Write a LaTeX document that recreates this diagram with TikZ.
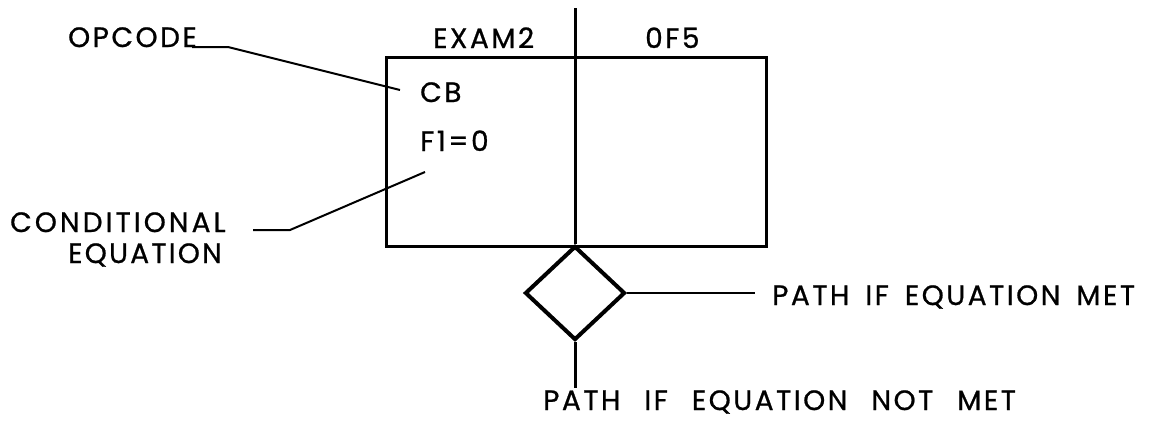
\documentclass[tikz,border=0pt]{standalone}
\usepackage{fontspec}
\setmainfont{Poppins}[LetterSpace=9,WordSpace=2.4,FakeBold=0.8]
\newfontfamily\metfont{Poppins}[LetterSpace=9,WordSpace=1.6,FakeBold=0.8]
\usetikzlibrary{shapes.geometric}
\begin{document}
\begin{tikzpicture}[x=1pt,y=-1pt,
  lbl/.style={inner sep=0pt,anchor=base west,font=\fontsize{28}{30}\selectfont},
  heavy/.style={line width=3pt},
  leader/.style={line width=2pt}]
\useasboundingbox (0,0) rectangle (1156,421);
% main box
\node[draw,heavy,minimum width=380pt,minimum height=189pt,inner sep=0pt] (box) at (576,151.5) {};
\node[draw,line width=4pt,shape=diamond,minimum width=100pt,minimum height=94pt,inner sep=0pt] (dia) at (575,293) {};
\coordinate (top) at (575,8);
\coordinate (bot) at (575,388);
\draw[heavy] (top) -- (dia.north);
\draw[heavy] (dia.south) -- (bot);
% headers
\node[lbl] (exam) at (433,48) {EXAM2};
\node[lbl] (ofs) at (645,48) {0F5};
% inside texts
\node[lbl] (cb) at (420,102) {CB};
\node[lbl] (feq) at (420,151) {F1=0};
% left labels
\node[lbl] (opc) at (68,47) {OPCODE};
\node[lbl,font=\fontsize{28}{30}\selectfont\addfontfeatures{LetterSpace=11}] (cond) at (10,232) {CONDITIONAL};
\node[lbl,font=\fontsize{28}{30}\selectfont\addfontfeatures{LetterSpace=8}] (equ) at (68,263) {EQUATION};
\coordinate (opcA) at (192,47);
\coordinate (opcB) at (228,47);
\coordinate (opcEnd) at (400,90);
\coordinate (condA) at (253,230);
\coordinate (condB) at (290,230);
\coordinate (condEnd) at (425,172);
\draw[leader] (opcA) -- (opcB) -- (opcEnd);
\draw[leader] (condA) -- (condB) -- (condEnd);
% path labels
\node[lbl,font=\fontsize{28}{30}\metfont] (met) at (772,305) {PATH IF EQUATION MET};
\node[lbl] (notmet) at (543,410) {PATH IF EQUATION NOT MET};
\coordinate (metEnd) at (755,293);
\draw[leader] (dia.east) -- (metEnd);
\end{tikzpicture}
\end{document}
